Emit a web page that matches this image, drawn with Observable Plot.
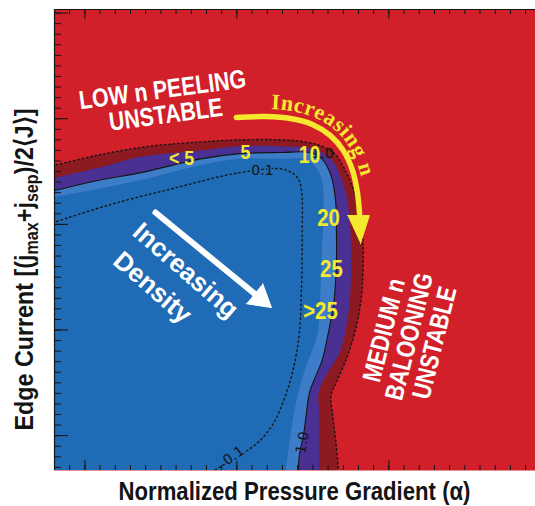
<!DOCTYPE html>
<html><head><meta charset="utf-8">
<script src="https://cdn.jsdelivr.net/npm/d3@7"></script>
<script src="https://cdn.jsdelivr.net/npm/@observablehq/plot@0.6"></script>
<style>
body{margin:0;background:#fff;}
#chart{width:535px;height:506px;overflow:hidden;}
</style></head><body><div id="chart"></div>
<script>
// ---- axis domains (normalized pressure gradient alpha, edge current j) ----
const alphaDomain = [0.8, 3.965];
const jDomain = [0.835, 3.017];
const alphaMajorTicks = [1, 2, 3];
const jMajorTicks = [1.0, 1.5, 2.0, 2.5, 3.0];

// ---- stability boundaries ----
// outer (dotted) boundary: red / dark red
const outerAlpha = [0.80,1.10,1.43,1.76,2.02,2.29,2.45,2.56,2.65,2.71,2.77,2.81,2.83,2.83,2.82,2.79,2.73,2.66,2.62,2.63,2.65,2.67];
const outerJ     = [2.28,2.33,2.37,2.39,2.40,2.40,2.39,2.37,2.33,2.26,2.16,2.04,1.92,1.78,1.66,1.53,1.38,1.26,1.19,1.10,0.98,0.83];
// dark red / purple boundary
const darkAlpha = [0.80,1.10,1.37,1.76,2.02,2.29,2.48,2.56,2.63,2.68,2.72,2.74,2.75,2.75,2.73,2.68,2.60,2.54,2.54,2.54,2.54];
const darkJ     = [2.22,2.27,2.32,2.35,2.37,2.37,2.36,2.34,2.30,2.23,2.14,2.04,1.92,1.73,1.56,1.40,1.30,1.21,1.12,0.98,0.83];
// growth-rate 1.0 contour (solid): purple / light blue
const oneAlpha = [0.80,1.10,1.37,1.76,2.02,2.29,2.48,2.56,2.62,2.65,2.655,2.655,2.64,2.60,2.56,2.48,2.46,2.44,2.41,2.405];
const oneJ     = [2.16,2.21,2.245,2.31,2.335,2.34,2.34,2.31,2.23,2.11,1.97,1.83,1.64,1.48,1.355,1.21,1.12,1.01,0.90,0.83];
// light blue / deep blue boundary
const lightAlpha = [0.80,1.10,1.37,1.76,2.02,2.29,2.45,2.52,2.56,2.57,2.56,2.55,2.53,2.47,2.42,2.38,2.35,2.32];
const lightJ     = [2.13,2.17,2.21,2.28,2.31,2.31,2.31,2.27,2.21,2.05,1.88,1.69,1.48,1.355,1.25,1.12,0.99,0.83];
// growth-rate 0.1 contour (dotted)
const tenthAlpha = [0.80,1.15,1.58,2.02,2.31,2.40,2.425,2.43,2.425,2.41,2.37,2.32,2.25,2.17,2.09,2.00,1.84];
const tenthJ     = [2.01,2.09,2.17,2.245,2.26,2.22,2.16,1.97,1.69,1.48,1.31,1.19,1.07,0.99,0.94,0.90,0.83];

// ---- toroidal mode number labels ----
const nLabelText  = ["< 5", "5", "10", "20", "25", ">25"];
const nLabelAlpha = [1.636, 2.057, 2.478, 2.603, 2.622, 2.55];
const nLabelJ     = [2.312, 2.341, 2.326, 2.027, 1.786, 1.587];
const nLabelSize  = [21, 21, 23, 24, 24, 24];

// ---- contour value labels ----
const tenthLabelText   = ["0.1", "0.1"];
const tenthLabelAlpha  = [2.168, 1.978];
const tenthLabelJ      = [2.255, 0.905];
const tenthLabelRotate = [0, -35];
const oneLabelText   = ["1.0", "1.0"];
const oneLabelAlpha  = [2.432, 2.565];
const oneLabelJ      = [0.967, 2.336];
const oneLabelRotate = [-80, 0];

// ---- region annotations ----
const peelText = "LOW n PEELING\nUNSTABLE";   const peelAlpha = 1.522; const peelJ = 2.576;
const balloonText = "MEDIUM n\nBALOONING\nUNSTABLE"; const balloonAlpha = 3.136; const balloonJ = 1.469;
const densityText = ["Increasing", "Density"];
const densityAlpha = [1.662, 1.445];
const densityJ = [1.781, 1.701];

// ---- arrows ----
const nArrowAlpha = [1.997,2.188,2.353,2.497,2.616,2.701,2.761,2.793,2.807];
const nArrowJ     = [2.506,2.510,2.501,2.473,2.420,2.349,2.255,2.151,2.051];
const nHeadAlpha  = [2.728,2.872,2.813];
const nHeadJ      = [2.042,2.042,1.909];
const nTextPathAlpha = [1.925,1.997,2.188,2.361,2.515,2.645,2.740,2.804,2.839,2.853];
const nTextPathJ     = [2.539,2.539,2.544,2.534,2.503,2.446,2.367,2.265,2.156,2.054];
const dArrowAlpha = [1.4645, 2.116];
const dArrowJ     = [2.056, 1.672];
const dHeadAlpha  = [2.062, 2.2276, 2.170];
const dHeadJ      = [1.6245, 1.606, 1.719];

// ---- colours / fonts ----
const red = "#d2202a", darkRed = "#8c1a20", purple = "#4a3092",
      lightBlue = "#3d7cc6", mainBlue = "#1f6bb5", yellow = "#f5e92f", ink = "#141414";
const condensed = "Liberation Sans, Arial, sans-serif";      // drawn narrowed
const condensedNum = "Liberation Sans, Helvetica, sans-serif"; // drawn narrowed
const plain = "Liberation Sans, sans-serif";

const pts = (A, J) => A.map((a, i) => ({a, j: J[i]}));
function region(A, J) {
  const p = pts(A, J), n = p.length;
  const s = (p[1].j - p[0].j) / (p[1].a - p[0].a);
  const start = {a: p[0].a - 0.15, j: p[0].j - s * 0.15};
  const t = (p[n-1].a - p[n-2].a) / (p[n-1].j - p[n-2].j);
  const end = {a: p[n-1].a - t * 0.12, j: p[n-1].j - 0.12};
  return [start, ...p, end, {a: alphaDomain[0] - 0.6, j: jDomain[0] - 0.5}, {a: alphaDomain[0] - 0.6, j: start.j}];
}
function extended(A, J) {
  const p = pts(A, J), n = p.length;
  const s = (p[1].j - p[0].j) / (p[1].a - p[0].a);
  const t = (p[n-1].a - p[n-2].a) / (p[n-1].j - p[n-2].j);
  return [{a: p[0].a - 0.1, j: p[0].j - s * 0.1}, ...p, {a: p[n-1].a - t * 0.1, j: p[n-1].j - 0.1}];
}
const rows = (T, A, J, extra = {}) => T.map((t, i) => ({t, a: A[i], j: J[i], ...Object.fromEntries(Object.entries(extra).map(([k, v]) => [k, v[i]]))}));

const alphaMinor = d3.range(9, 40).map(v => v / 10);
const jMinor = d3.range(17, 61).map(v => v / 20);

const fig = Plot.plot({
  width: 535, height: 506,
  marginTop: 9, marginRight: 0, marginBottom: 36, marginLeft: 54,
  x: {domain: alphaDomain},
  y: {domain: jDomain},
  style: {background: "white", overflow: "visible"},
  marks: [
    Plot.frame({fill: red, stroke: "none"}),
    Plot.line(region(outerAlpha, outerJ), {x: "a", y: "j", fill: darkRed, stroke: "none", curve: "catmull-rom", clip: true}),
    Plot.line(region(darkAlpha, darkJ), {x: "a", y: "j", fill: purple, stroke: "none", curve: "catmull-rom", clip: true}),
    Plot.line(region(oneAlpha, oneJ), {x: "a", y: "j", fill: lightBlue, stroke: "none", curve: "catmull-rom", clip: true}),
    Plot.line(region(lightAlpha, lightJ), {x: "a", y: "j", fill: mainBlue, stroke: "none", curve: "catmull-rom", clip: true}),
    Plot.line(extended(outerAlpha, outerJ), {x: "a", y: "j", stroke: ink, strokeWidth: 1.4, strokeDasharray: "1.4,3", curve: "catmull-rom", clip: true}),
    Plot.line(extended(oneAlpha, oneJ), {x: "a", y: "j", stroke: ink, strokeWidth: 1.1, curve: "catmull-rom", clip: true}),
    Plot.line(extended(tenthAlpha, tenthJ), {x: "a", y: "j", stroke: ink, strokeWidth: 1.4, strokeDasharray: "1.4,3.2", curve: "catmull-rom", clip: true}),
    // ticks (inward, no labels)
    Plot.axisX(alphaMinor, {anchor: "bottom", tickSize: 5, dy: -5, fill: "none", stroke: ink}),
    Plot.axisX(alphaMajorTicks, {anchor: "bottom", tickSize: 10, dy: -10, fill: "none", stroke: ink}),
    Plot.axisX(alphaMinor, {anchor: "top", tickSize: 4, dy: 4, fill: "none", stroke: ink}),
    Plot.axisX(alphaMajorTicks, {anchor: "top", tickSize: 9, dy: 9, fill: "none", stroke: ink}),
    Plot.axisY(jMinor, {anchor: "left", tickSize: 7, dx: 7, fill: "none", stroke: ink}),
    Plot.axisY(jMajorTicks, {anchor: "left", tickSize: 14, dx: 14, fill: "none", stroke: ink}),
    Plot.ruleX([alphaDomain[0]], {stroke: ink, strokeWidth: 1.2}),
    Plot.ruleY([jDomain[1]], {stroke: ink, strokeWidth: 1}),
    // contour labels
    Plot.text(rows(tenthLabelText, tenthLabelAlpha, tenthLabelJ, {r: tenthLabelRotate}), {x: "a", y: "j", text: "t", rotate: "r", fill: ink, stroke: mainBlue, strokeWidth: 3, paintOrder: "stroke", fontSize: 14, fontFamily: "DejaVu Sans, sans-serif"}),
    Plot.text(rows(oneLabelText, oneLabelAlpha, oneLabelJ, {r: oneLabelRotate}), {x: "a", y: "j", text: "t", rotate: "r", fill: ink, fontSize: 14, fontFamily: "DejaVu Sans, sans-serif"}),
    // arrows
    Plot.line(pts(nArrowAlpha, nArrowJ), {x: "a", y: "j", stroke: yellow, strokeWidth: 5.5, curve: "catmull-rom"}),
    Plot.line(pts(nHeadAlpha, nHeadJ), {x: "a", y: "j", fill: yellow, stroke: yellow, strokeWidth: 1}),
    Plot.line(pts(dArrowAlpha, dArrowJ), {x: "a", y: "j", stroke: "white", strokeWidth: 6}),
    Plot.line(pts(dHeadAlpha, dHeadJ), {x: "a", y: "j", fill: "white", stroke: "white", strokeWidth: 1}),
    // mode-number labels
    Plot.text(rows(nLabelText, nLabelAlpha, nLabelJ, {s: nLabelSize}), {x: "a", y: "j", text: "t", fontSize: "s", fill: yellow, fontWeight: "bold", fontFamily: condensedNum}),
    // region annotations
    Plot.text([peelText], {x: () => peelAlpha, y: () => peelJ, text: d => d, rotate: -7.5, fill: "white", fontSize: 26, fontWeight: "bold", lineHeight: 0.97, fontFamily: condensed}),
    Plot.text([balloonText], {x: () => balloonAlpha, y: () => balloonJ, text: d => d, rotate: -76, fill: "white", fontSize: 26, fontWeight: "bold", lineHeight: 1.0, fontFamily: condensed}),
    Plot.text(rows(densityText, densityAlpha, densityJ), {x: "a", y: "j", text: "t", rotate: 41, fill: "white", fontSize: 26, fontWeight: "bold", fontFamily: plain})
  ]
});
document.getElementById("chart").appendChild(fig);

const svg = d3.select(fig);
// narrow the condensed-lettered annotations (the original uses a condensed face)
function narrowText(family, k) {
  svg.selectAll("g").filter(function () { return this.getAttribute("font-family") === family; })
    .selectAll("text").attr("transform", function () { return (this.getAttribute("transform") || "") + ` scale(${k},1)`; });
}
narrowText(condensed, 0.82);
narrowText(condensedNum, 0.85);

// ---- curved "Increasing n" label and axis titles ----
const sx = fig.scale("x"), sy = fig.scale("y");
const arcLine = d3.line().x(d => sx.apply(d.a)).y(d => sy.apply(d.j)).curve(d3.curveCatmullRom);
svg.append("path").attr("id", "incN").attr("d", arcLine(pts(nTextPathAlpha, nTextPathJ))).attr("fill", "none").attr("stroke", "none");
svg.append("text").attr("fill", yellow).attr("text-anchor", "start")
  .style("font", "bold 22px 'Liberation Serif','DejaVu Serif',serif").style("letter-spacing", "0.6px")
  .append("textPath").attr("href", "#incN").attr("startOffset", 46).text("Increasing n");

const [x0, x1] = sx.range, [y0, y1] = sy.range;
svg.append("text").attr("x", (x0 + x1) / 2).attr("y", 500).attr("text-anchor", "middle")
  .attr("textLength", 352).attr("lengthAdjust", "spacingAndGlyphs")
  .attr("fill", ink).style("font", "bold 25px 'Liberation Sans', sans-serif").text("Normalized Pressure Gradient (α)");
const yl = svg.append("text").attr("transform", `translate(33,${(y0 + y1) / 2 + 30}) rotate(-90)`)
  .attr("text-anchor", "middle").attr("textLength", 322).attr("lengthAdjust", "spacingAndGlyphs")
  .attr("fill", ink).style("font", "bold 26px 'Liberation Sans', sans-serif");
yl.append("tspan").text("Edge Current [(j");
yl.append("tspan").attr("font-size", "18px").attr("dy", 5).text("max");
yl.append("tspan").attr("dy", -5).text("+j");
yl.append("tspan").attr("font-size", "18px").attr("dy", 5).text("sep");
yl.append("tspan").attr("dy", -5).text(")/2⟨J⟩]");
</script></body></html>
